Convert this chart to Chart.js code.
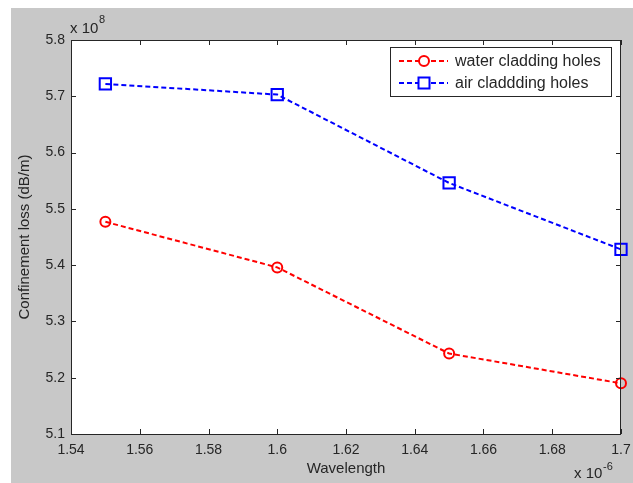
<!DOCTYPE html>
<html>
<head>
<meta charset="utf-8">
<script src="https://cdn.jsdelivr.net/npm/chart.js@4.4.1/dist/chart.umd.min.js"></script>
<style>
  html, body { margin: 0; padding: 0; background: #ffffff; }
  canvas { display: block; }
</style>
</head>
<body>
<canvas id="lossChart" width="633" height="483"></canvas>
<script>
// wavelength in units of 1e-6, loss in units of 1e8
const wavelengths = [1.55, 1.6, 1.65, 1.7];
const waterLoss = [5.477, 5.396, 5.243, 5.190];
const airLoss = [5.722, 5.703, 5.546, 5.428];
const xTicks = [1.54, 1.56, 1.58, 1.6, 1.62, 1.64, 1.66, 1.68, 1.7];
const yTicks = [5.1, 5.2, 5.3, 5.4, 5.5, 5.6, 5.7, 5.8];
const seriesNames = ["water cladding holes", "air claddding holes"];

const FONT = "'Liberation Sans', Arial, sans-serif";
const INK = "#262626";

function fmt(v) {
  return Number(v.toFixed(2)).toString();
}

// MATLAB-style figure: grey frame, box, inward ticks, exponent labels and legend
const matlabDecor = {
  id: "matlabDecor",
  beforeDraw(chart) {
    const { ctx, chartArea: a, width, height } = chart;
    ctx.save();
    ctx.fillStyle = "#ffffff";
    ctx.fillRect(0, 0, width, height);
    ctx.fillStyle = "#c8c8c8";
    ctx.fillRect(11, 8, width - 11, height - 8);
    ctx.fillStyle = "#ffffff";
    ctx.fillRect(a.left, a.top, a.right - a.left, a.bottom - a.top);
    ctx.restore();
  },
  afterDraw(chart) {
    const { ctx, chartArea: a, scales } = chart;
    ctx.save();
    ctx.strokeStyle = INK;
    ctx.lineWidth = 1;
    ctx.strokeRect(a.left + 0.5, a.top + 0.5, a.right - a.left - 1, a.bottom - a.top);

    ctx.beginPath();
    xTicks.forEach((t) => {
      const x = Math.round(scales.x.getPixelForValue(t)) + 0.5;
      ctx.moveTo(x, a.bottom);
      ctx.lineTo(x, a.bottom - 5);
      ctx.moveTo(x, a.top);
      ctx.lineTo(x, a.top + 5);
    });
    yTicks.forEach((t) => {
      const y = Math.round(scales.y.getPixelForValue(t)) + 0.5;
      ctx.moveTo(a.left, y);
      ctx.lineTo(a.left + 5, y);
      ctx.moveTo(a.right, y);
      ctx.lineTo(a.right - 5, y);
    });
    ctx.stroke();

    // exponent labels
    ctx.fillStyle = INK;
    ctx.textBaseline = "alphabetic";
    ctx.textAlign = "left";
    ctx.font = "15px " + FONT;
    ctx.fillText("x 10", 70, 33);
    ctx.font = "11px " + FONT;
    ctx.fillText("8", 99, 23);
    ctx.font = "15px " + FONT;
    ctx.fillText("x 10", 574, 478);
    ctx.font = "11px " + FONT;
    ctx.fillText("-6", 603, 470);

    // legend
    const lx = 390, ly = 47, lw = 221, lh = 49;
    ctx.fillStyle = "#ffffff";
    ctx.fillRect(lx, ly, lw, lh);
    ctx.strokeStyle = INK;
    ctx.lineWidth = 1;
    ctx.strokeRect(lx + 0.5, ly + 0.5, lw, lh);
    chart.data.datasets.forEach((ds, i) => {
      const y = 61 + i * 22;
      ctx.strokeStyle = ds.borderColor;
      ctx.lineWidth = 2;
      ctx.setLineDash([5, 3]);
      ctx.beginPath();
      ctx.moveTo(399, y);
      ctx.lineTo(448, y);
      ctx.stroke();
      ctx.setLineDash([]);
      ctx.fillStyle = "#ffffff";
      ctx.beginPath();
      if (ds.pointStyle === "rect") {
        ctx.rect(424 - 5.5, y - 5.5, 11, 11);
      } else {
        ctx.arc(424, y, 5, 0, Math.PI * 2);
      }
      ctx.fill();
      ctx.stroke();
      ctx.fillStyle = INK;
      ctx.font = "16px " + FONT;
      ctx.textBaseline = "middle";
      ctx.fillText(ds.label, 455, y + 1);
    });
    ctx.restore();
  },
};

new Chart(document.getElementById("lossChart"), {
  type: "line",
  data: {
    labels: wavelengths,
    datasets: [
      {
        label: seriesNames[0],
        data: wavelengths.map((x, i) => ({ x, y: waterLoss[i] })),
        borderColor: "#ff0000",
        backgroundColor: "rgba(0,0,0,0)",
        borderWidth: 2,
        borderDash: [5, 3],
        pointStyle: "circle",
        pointRadius: 5,
        pointBorderWidth: 2,
        tension: 0,
      },
      {
        label: seriesNames[1],
        data: wavelengths.map((x, i) => ({ x, y: airLoss[i] })),
        borderColor: "#0000ff",
        backgroundColor: "rgba(0,0,0,0)",
        borderWidth: 2,
        borderDash: [5, 3],
        pointStyle: "rect",
        pointRadius: 8,
        pointBorderWidth: 2,
        tension: 0,
      },
    ],
  },
  options: {
    responsive: false,
    animation: false,
    clip: false,
    layout: { padding: { left: 0, top: 40, right: 12, bottom: 0 } },
    plugins: {
      legend: { display: false },
      tooltip: { enabled: false },
    },
    scales: {
      x: {
        type: "linear",
        min: 1.54,
        max: 1.7,
        afterBuildTicks: (scale) => {
          scale.ticks = xTicks.map((v) => ({ value: v }));
        },
        afterFit: (scale) => {
          scale.height = 49;
          scale.paddingLeft = 0;
          scale.paddingRight = 0;
        },
        grid: { display: false, drawTicks: false },
        border: { display: false },
        ticks: {
          color: INK,
          font: { family: FONT, size: 14 },
          padding: 8,
          maxRotation: 0,
          callback: (v) => fmt(v),
        },
        title: {
          display: true,
          text: "Wavelength",
          color: INK,
          font: { family: FONT, size: 15 },
          padding: { top: 0, bottom: 5 },
        },
      },
      y: {
        min: 5.1,
        max: 5.8,
        afterBuildTicks: (scale) => {
          scale.ticks = yTicks.map((v) => ({ value: v }));
        },
        afterFit: (scale) => {
          scale.width = 71;
          scale.paddingTop = 0;
          scale.paddingBottom = 0;
        },
        grid: { display: false, drawTicks: false },
        border: { display: false },
        ticks: {
          color: INK,
          font: { family: FONT, size: 14 },
          padding: 6,
          callback: (v) => fmt(v),
        },
        title: {
          display: true,
          text: "Confinement loss (dB/m)",
          color: INK,
          font: { family: FONT, size: 15 },
          padding: { top: 16, bottom: 0 },
        },
      },
    },
  },
  plugins: [matlabDecor],
});
</script>
</body>
</html>
